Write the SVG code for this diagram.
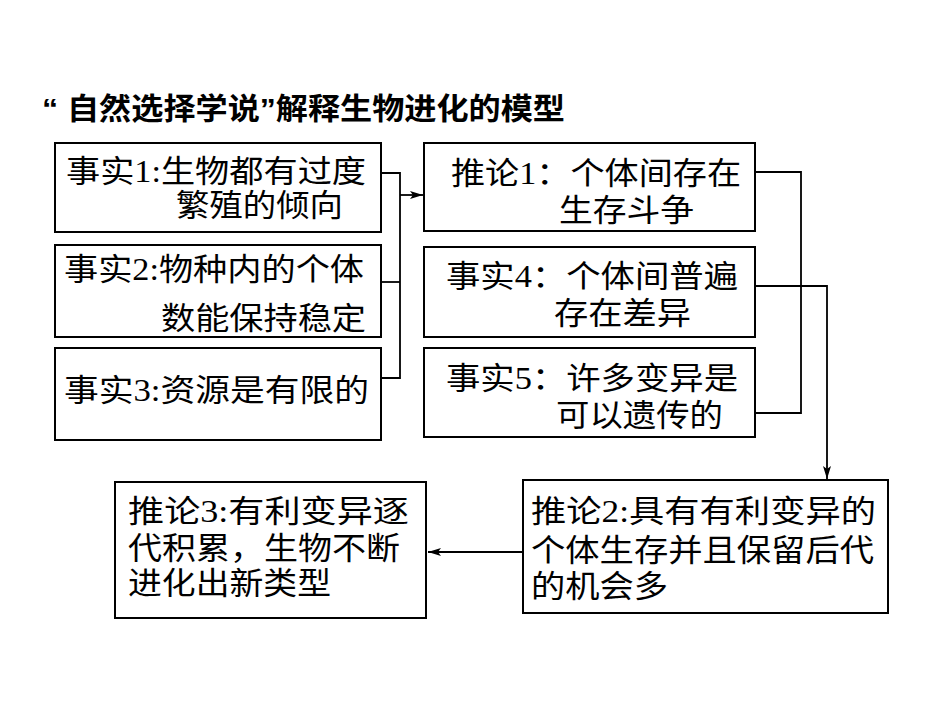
<svg xmlns="http://www.w3.org/2000/svg" width="950" height="713" viewBox="0 0 950 713">
<style>
.box{fill:#fff;stroke:#000;stroke-width:2}
.t{font-family:"Liberation Serif","Noto Sans CJK SC",serif;font-size:31px;fill:#000}
.title{font-family:"Liberation Sans","Noto Sans CJK SC",sans-serif;font-size:30px;font-weight:bold;fill:#000}
.ln{fill:none;stroke:#000;stroke-width:1.8}
</style>
<defs>
<marker id="arr" markerWidth="14" markerHeight="10" refX="13" refY="5" orient="auto" markerUnits="userSpaceOnUse">
<path d="M0,1 L13,5 L0,9 L3,5 Z" fill="#000"/>
</marker>
</defs>
<rect width="950" height="713" fill="#fff"/>
<text class="title" x="42" y="119" textLength="523" lengthAdjust="spacingAndGlyphs">“ 自然选择学说”解释生物进化的模型</text>

<g id="fact1">
<rect class="box" x="55" y="143" width="326" height="89"/>
<text class="t" x="66" y="182" textLength="300" lengthAdjust="spacingAndGlyphs">事实1:生物都有过度</text>
<text class="t" x="176" y="216" textLength="167" lengthAdjust="spacingAndGlyphs">繁殖的倾向</text>
</g>
<g id="fact2">
<rect class="box" x="55" y="245" width="326" height="92"/>
<text class="t" x="64" y="280" textLength="300" lengthAdjust="spacingAndGlyphs">事实2:物种内的个体</text>
<text class="t" x="161" y="329" textLength="205" lengthAdjust="spacingAndGlyphs">数能保持稳定</text>
</g>
<g id="fact3">
<rect class="box" x="55" y="348" width="326" height="92"/>
<text class="t" x="64" y="401" textLength="305" lengthAdjust="spacingAndGlyphs">事实3:资源是有限的</text>
</g>

<g id="inf1">
<rect class="box" x="424" y="143" width="331" height="88"/>
<text class="t" x="451" y="184" textLength="290" lengthAdjust="spacingAndGlyphs">推论1：个体间存在</text>
<text class="t" x="559" y="221" textLength="135" lengthAdjust="spacingAndGlyphs">生存斗争</text>
</g>
<g id="fact4">
<rect class="box" x="424" y="247" width="331" height="90"/>
<text class="t" x="446" y="287" textLength="292" lengthAdjust="spacingAndGlyphs">事实4：个体间普遍</text>
<text class="t" x="554" y="324" textLength="137" lengthAdjust="spacingAndGlyphs">存在差异</text>
</g>
<g id="fact5">
<rect class="box" x="424" y="348" width="331" height="89"/>
<text class="t" x="446" y="389" textLength="292" lengthAdjust="spacingAndGlyphs">事实5：许多变异是</text>
<text class="t" x="556" y="426" textLength="167" lengthAdjust="spacingAndGlyphs">可以遗传的</text>
</g>

<g id="inf3">
<rect class="box" x="115" y="482" width="311" height="136"/>
<text class="t" x="128" y="522" textLength="281" lengthAdjust="spacingAndGlyphs">推论3:有利变异逐</text>
<text class="t" x="128" y="559" textLength="272" lengthAdjust="spacingAndGlyphs">代积累，生物不断</text>
<text class="t" x="128" y="594" textLength="203" lengthAdjust="spacingAndGlyphs">进化出新类型</text>
</g>
<g id="inf2">
<rect class="box" x="523" y="480" width="365" height="133"/>
<text class="t" x="531" y="522" textLength="345" lengthAdjust="spacingAndGlyphs">推论2:具有有利变异的</text>
<text class="t" x="531" y="561" textLength="343" lengthAdjust="spacingAndGlyphs">个体生存并且保留后代</text>
<text class="t" x="531" y="597" textLength="137" lengthAdjust="spacingAndGlyphs">的机会多</text>
</g>

<g id="connectors">
<polyline class="ln" points="381,173 400,173 400,378 381,378"/>
<line class="ln" x1="381" y1="282" x2="400" y2="282"/>
<line class="ln" x1="400" y1="195" x2="423" y2="195" marker-end="url(#arr)"/>
<polyline class="ln" points="755,172 801,172 801,413 754,413"/>
<polyline class="ln" points="755,286 827,286 827,479" marker-end="url(#arr)"/>
<line class="ln" x1="523" y1="552" x2="428" y2="552" marker-end="url(#arr)"/>
</g>
</svg>
